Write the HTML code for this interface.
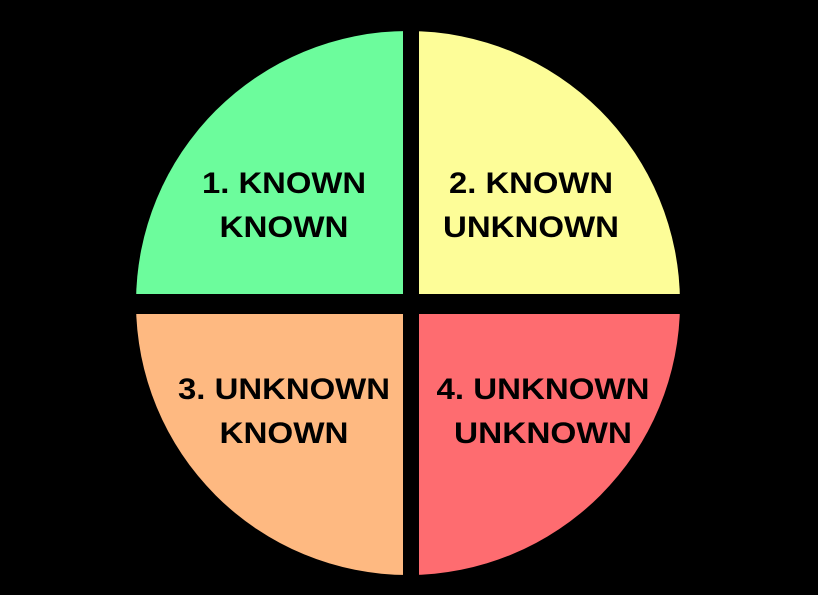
<!DOCTYPE html>
<html><head><meta charset="utf-8"><style>
html,body{margin:0;padding:0;background:#000;}
svg{display:block;}
text{font-family:"Liberation Sans",sans-serif;font-weight:bold;font-size:30px;fill:#000;}
</style></head><body>
<svg id="chart" width="818" height="595" viewBox="0 0 818 595">
<rect width="818" height="595" fill="#000"/>
<g id="wedges"></g>
<rect x="403" y="20" width="16" height="565" fill="#000"/>
<rect x="120" y="294" width="580" height="20" fill="#000"/>
<g id="labels"></g>
</svg>
<script>
const categories = ["2. KNOWN UNKNOWN","4. UNKNOWN UNKNOWN","3. UNKNOWN KNOWN","1. KNOWN KNOWN"];
const values = [1,1,1,1];
const colors = ["#fdfd98","#fe6c70","#feb981","#6cfc9c"];
const line1 = ["2. KNOWN","4. UNKNOWN","3. UNKNOWN","1. KNOWN"];
const line2 = ["UNKNOWN","UNKNOWN","KNOWN","KNOWN"];
const NS="http://www.w3.org/2000/svg";
const cx=408, cy=303, r=272;
const total=values.reduce((a,b)=>a+b,0);
const wg=document.getElementById('wedges'), lg=document.getElementById('labels');
const widths1=[164,213,212,164], widths2=[176,178,129,129];
let a0=-Math.PI/2;
values.forEach((v,i)=>{
  const a1=a0+v/total*2*Math.PI;
  const x0=cx+r*Math.cos(a0), y0=cy+r*Math.sin(a0), x1=cx+r*Math.cos(a1), y1=cy+r*Math.sin(a1);
  const large=(a1-a0)>Math.PI?1:0;
  const p=document.createElementNS(NS,'path');
  p.setAttribute('d',`M${cx},${cy}L${x0},${y0}A${r},${r} 0 ${large} 1 ${x1},${y1}Z`);
  p.setAttribute('fill',colors[i]);
  
  
  wg.appendChild(p);
  const am=(a0+a1)/2;
  const right=Math.cos(am)>0, top=Math.sin(am)<0;
  const tx=cx+(right?(top?123:135):-124);
  const ty=top?cy-110:cy+96;
  [[line1[i],widths1[i],0],[line2[i],widths2[i],44]].forEach(([s,w,dy])=>{
    const t=document.createElementNS(NS,'text');
    t.setAttribute('x',tx); t.setAttribute('y',ty+dy);
    t.setAttribute('text-anchor','middle');
    t.setAttribute('textLength',w);
    t.setAttribute('lengthAdjust','spacingAndGlyphs');
    t.textContent=s;
    
    
    lg.appendChild(t);
  });
  a0=a1;
});
</script>
</body></html>
